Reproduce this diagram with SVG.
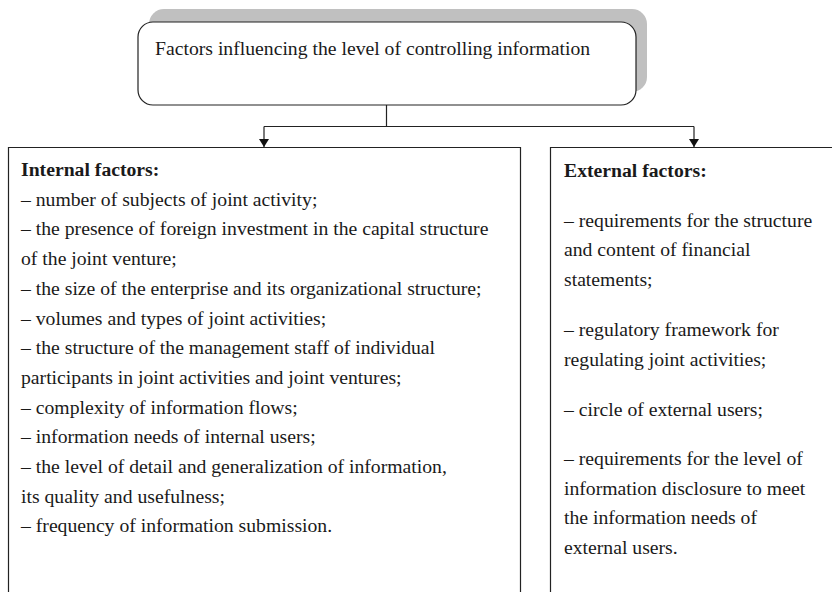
<svg xmlns="http://www.w3.org/2000/svg" width="832" height="592" viewBox="0 0 832 592">
<defs>
<style>
.t{font-family:"Liberation Serif","Times New Roman",serif;font-size:19.7px;fill:#1a1a1a}
.b{font-weight:bold}
.box{fill:#fff;stroke:#222;stroke-width:1.2}
.ln{fill:none;stroke:#222;stroke-width:1.2}
</style>
<marker id="ah" viewBox="0 0 8 10" refX="8" refY="5" markerWidth="8" markerHeight="10" markerUnits="userSpaceOnUse" orient="auto">
<path d="M0,0 L8,5 L0,10 z" fill="#111"/>
</marker>
</defs>
<rect width="832" height="592" fill="#fff"/>
<g id="top">
<rect x="149" y="9" width="498" height="83" rx="15" fill="#c0c0c0"/>
<rect class="box" x="138" y="22" width="498" height="83" rx="15"/>
<text class="t" x="155" y="55">Factors influencing the level of controlling information</text>
</g>
<g id="connectors">
<path class="ln" d="M386.5,105 V126.5 M264,126.5 H694"/>
<path class="ln" d="M264,126.5 V147" marker-end="url(#ah)"/>
<path class="ln" d="M694,126.5 V147" marker-end="url(#ah)"/>
</g>
<g id="internal">
<path class="box" d="M8.5,600 V147.5 H520.5 V600"/>
<text class="t b" x="21" y="176">Internal factors:</text>
<text class="t" x="21" y="205.7">– number of subjects of joint activity;</text>
<text class="t" x="21" y="235.4">– the presence of foreign investment in the capital structure</text>
<text class="t" x="21" y="265.1">of the joint venture;</text>
<text class="t" x="21" y="294.8">– the size of the enterprise and its organizational structure;</text>
<text class="t" x="21" y="324.5">– volumes and types of joint activities;</text>
<text class="t" x="21" y="354.2">– the structure of the management staff of individual</text>
<text class="t" x="21" y="383.9">participants in joint activities and joint ventures;</text>
<text class="t" x="21" y="413.6">– complexity of information flows;</text>
<text class="t" x="21" y="443.3">– information needs of internal users;</text>
<text class="t" x="21" y="473">– the level of detail and generalization of information,</text>
<text class="t" x="21" y="502.7">its quality and usefulness;</text>
<text class="t" x="21" y="532.4">– frequency of information submission.</text>
</g>
<g id="external">
<path class="box" d="M550.5,600 V147.5 H840" stroke="#444" stroke-width="1.6"/>
<text class="t b" x="564" y="176.5">External factors:</text>
<text class="t" x="564" y="226.5">– requirements for the structure</text>
<text class="t" x="564" y="256">and content of financial</text>
<text class="t" x="564" y="285.5">statements;</text>
<text class="t" x="564" y="336">– regulatory framework for</text>
<text class="t" x="564" y="365.5">regulating joint activities;</text>
<text class="t" x="564" y="416">– circle of external users;</text>
<text class="t" x="564" y="465">– requirements for the level of</text>
<text class="t" x="564" y="494.5">information disclosure to meet</text>
<text class="t" x="564" y="524">the information needs of</text>
<text class="t" x="564" y="553.5">external users.</text>
</g>
</svg>
